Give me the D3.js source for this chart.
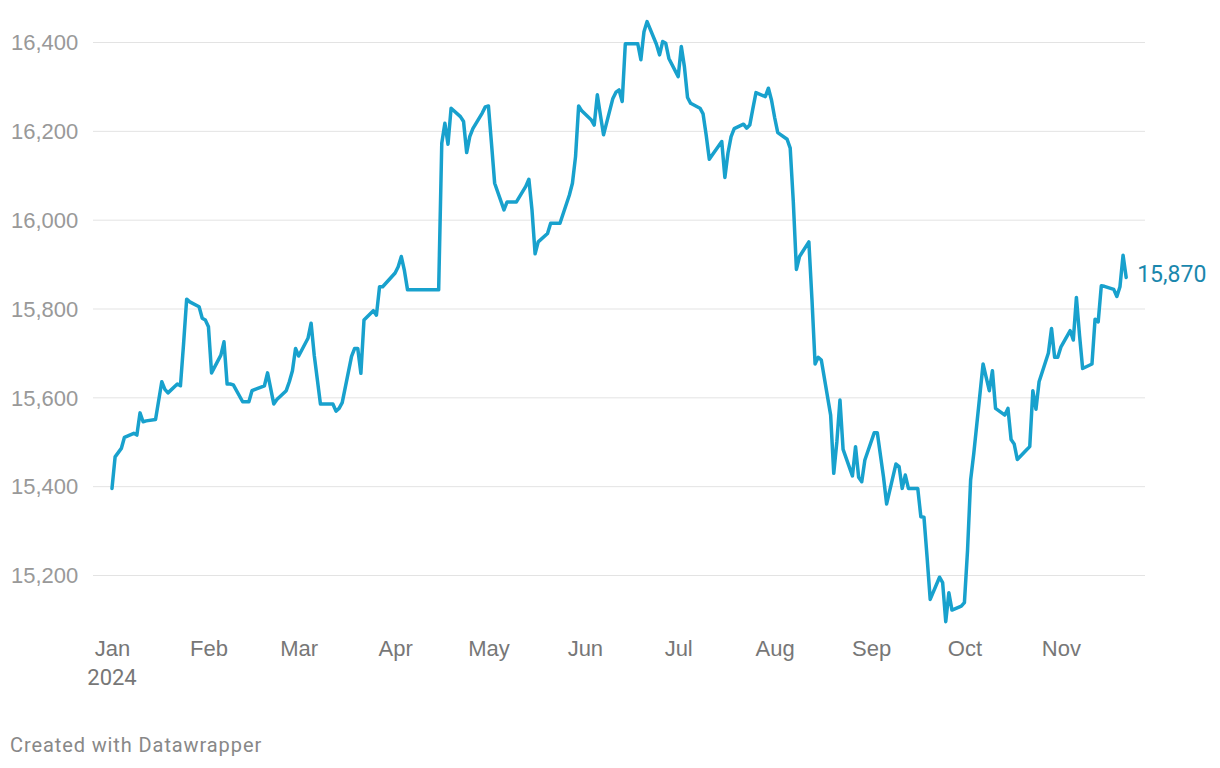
<!DOCTYPE html>
<html>
<head>
<meta charset="utf-8">
<script src="https://cdn.jsdelivr.net/npm/d3@7/dist/d3.min.js"></script>
<style>
  html, body { margin: 0; padding: 0; background: #fff; }
  svg { display: block; font-family: Roboto, "Noto Sans", sans-serif; }
</style>
</head>
<body>
<svg id="chart" width="1220" height="768"></svg>
<script>
const dates = [
  "2024-01-01","2024-01-02","2024-01-04","2024-01-05","2024-01-08","2024-01-09","2024-01-10","2024-01-11","2024-01-12",
  "2024-01-15","2024-01-17","2024-01-18","2024-01-19","2024-01-22","2024-01-23","2024-01-24","2024-01-25","2024-01-26",
  "2024-01-29","2024-01-30","2024-01-31","2024-02-01","2024-02-02","2024-02-05","2024-02-06","2024-02-07","2024-02-08",
  "2024-02-09","2024-02-12","2024-02-13","2024-02-14","2024-02-15","2024-02-16","2024-02-19","2024-02-20","2024-02-21",
  "2024-02-22","2024-02-23","2024-02-26","2024-02-27","2024-02-28","2024-02-29","2024-03-01","2024-03-04","2024-03-05",
  "2024-03-06","2024-03-07","2024-03-08","2024-03-11","2024-03-12","2024-03-13","2024-03-14","2024-03-15","2024-03-18",
  "2024-03-19","2024-03-20","2024-03-21","2024-03-22","2024-03-25","2024-03-26","2024-03-27","2024-03-28","2024-04-01",
  "2024-04-02","2024-04-03","2024-04-04","2024-04-05","2024-04-15","2024-04-16","2024-04-17","2024-04-18","2024-04-19",
  "2024-04-22","2024-04-23","2024-04-24","2024-04-25","2024-04-26","2024-04-29","2024-04-30","2024-05-01","2024-05-02",
  "2024-05-03","2024-05-06","2024-05-07","2024-05-08","2024-05-09","2024-05-10","2024-05-13","2024-05-14","2024-05-15",
  "2024-05-16","2024-05-17","2024-05-20","2024-05-21","2024-05-22","2024-05-23","2024-05-24","2024-05-27","2024-05-28",
  "2024-05-29","2024-05-30","2024-05-31","2024-06-03","2024-06-04","2024-06-05","2024-06-06","2024-06-07","2024-06-10",
  "2024-06-11","2024-06-12","2024-06-13","2024-06-14","2024-06-17","2024-06-18","2024-06-19","2024-06-20","2024-06-21",
  "2024-06-24","2024-06-25","2024-06-26","2024-06-27","2024-06-28","2024-07-01","2024-07-02","2024-07-03","2024-07-04",
  "2024-07-05","2024-07-08","2024-07-09","2024-07-10","2024-07-11","2024-07-12","2024-07-15","2024-07-16","2024-07-17",
  "2024-07-18","2024-07-19","2024-07-22","2024-07-23","2024-07-24","2024-07-25","2024-07-26","2024-07-29","2024-07-30",
  "2024-07-31","2024-08-01","2024-08-02","2024-08-05","2024-08-06","2024-08-07","2024-08-08","2024-08-09","2024-08-12",
  "2024-08-13","2024-08-14","2024-08-15","2024-08-16","2024-08-19","2024-08-20","2024-08-21","2024-08-22","2024-08-23",
  "2024-08-26","2024-08-27","2024-08-28","2024-08-29","2024-08-30","2024-09-02","2024-09-03","2024-09-04","2024-09-05",
  "2024-09-06","2024-09-09","2024-09-10","2024-09-11","2024-09-12","2024-09-13","2024-09-16","2024-09-17","2024-09-18",
  "2024-09-19","2024-09-20","2024-09-23","2024-09-24","2024-09-25","2024-09-26","2024-09-27","2024-09-30","2024-10-01",
  "2024-10-02","2024-10-03","2024-10-04","2024-10-07","2024-10-08","2024-10-09","2024-10-10","2024-10-11","2024-10-14",
  "2024-10-15","2024-10-16","2024-10-17","2024-10-18","2024-10-21","2024-10-22","2024-10-23","2024-10-24","2024-10-25",
  "2024-10-28","2024-10-29","2024-10-30","2024-10-31","2024-11-01","2024-11-04","2024-11-05","2024-11-06","2024-11-07",
  "2024-11-08","2024-11-11","2024-11-12","2024-11-13","2024-11-14","2024-11-15","2024-11-18","2024-11-19","2024-11-20",
  "2024-11-21","2024-11-22"
];
const values = [
  15395,15466,15485,15510,15519,15515,15565,15545,15547,
  15550,15635,15618,15610,15630,15626,15720,15821,15815,
  15804,15778,15774,15759,15655,15695,15725,15630,15630,
  15628,15590,15590,15590,15615,15618,15626,15655,15620,
  15585,15595,15615,15635,15660,15710,15693,15733,15767,
  15695,15640,15585,15585,15585,15569,15575,15588,15692,
  15710,15710,15654,15774,15795,15785,15849,15849,15880,
  15894,15917,15885,15842,15842,16172,16217,16170,16251,
  16232,16221,16151,16187,16205,16240,16254,16256,16170,
  16082,16022,16040,16040,16040,16040,16075,16091,16022,
  15923,15950,15969,15992,15992,15992,15992,16055,16082,
  16142,16256,16245,16225,16213,16281,16235,16191,16273,
  16287,16292,16266,16396,16396,16396,16360,16423,16446,
  16395,16371,16401,16397,16363,16322,16390,16344,16275,
  16262,16251,16238,16190,16136,16146,16176,16095,16150,
  16187,16205,16215,16206,16213,16250,16286,16277,16296,
  16269,16230,16196,16181,16161,16040,15888,15917,15950,
  15820,15675,15690,15684,15560,15429,15500,15594,15483,
  15423,15489,15420,15410,15459,15520,15520,15470,15420,
  15360,15450,15444,15395,15425,15395,15395,15331,15330,
  15240,15145,15195,15183,15095,15160,15121,15130,15138,
  15255,15414,15473,15675,15645,15615,15660,15575,15560,
  15575,15505,15495,15460,15482,15489,15615,15573,15635,
  15700,15755,15690,15690,15713,15750,15729,15825,15740,
  15665,15675,15776,15770,15851,15850,15843,15827,15849,
  15920,15870
];
const yTicks = [15200, 15400, 15600, 15800, 16000, 16200, 16400];
const xTickDates = ["2024-01-01","2024-02-01","2024-03-01","2024-04-01","2024-05-01","2024-06-01",
                    "2024-07-01","2024-08-01","2024-09-01","2024-10-01","2024-11-01"];
const yearLabel = "2024";
const footerText = "Created with Datawrapper";

const parse = d3.timeParse("%Y-%m-%d");
const data = dates.map((d, i) => ({ date: parse(d), value: values[i] }));

const svg = d3.select("#chart");
const gridLeft = 93, gridRight = 1145;

const x = d3.scaleTime()
  .domain(d3.extent(data, d => d.date))
  .range([112, 112 + 326 * 3.111]);

const y = d3.scaleLinear()
  .domain([15200, 16400])
  .range([575, 42]);

// Y axis with gridlines
const yAxis = svg.append("g")
  .attr("transform", `translate(${gridLeft},0)`)
  .call(d3.axisLeft(y)
    .tickValues(yTicks)
    .tickSize(-(gridRight - gridLeft))
    .tickPadding(12)
    .tickFormat(d3.format(",")));
yAxis.select(".domain").remove();
yAxis.selectAll(".tick line").attr("stroke", "#e3e3e3").attr("stroke-width", 1);
yAxis.selectAll(".tick text")
  .attr("fill", "#999")
  .attr("font-size", 22)
  .attr("text-anchor", "start")
  .attr("x", 11 - gridLeft)
  .attr("dy", "0.35em");

// X axis
const xAxis = svg.append("g")
  .attr("transform", "translate(0,640)")
  .call(d3.axisBottom(x)
    .tickValues(xTickDates.map(parse))
    .tickSize(0)
    .tickPadding(0)
    .tickFormat(d3.timeFormat("%b")));
xAxis.select(".domain").remove();
xAxis.selectAll(".tick text")
  .attr("fill", "#777")
  .attr("font-size", 22)
  .attr("dy", "0.71em");

svg.append("text")
  .attr("x", x(parse(xTickDates[0])))
  .attr("y", 640)
  .attr("dy", "2.05em")
  .attr("text-anchor", "middle")
  .attr("fill", "#777")
  .attr("font-size", 22)
  .text(yearLabel);

// Line
const line = d3.line()
  .x(d => x(d.date))
  .y(d => y(d.value));

svg.append("path")
  .datum(data)
  .attr("fill", "none")
  .attr("stroke", "#18a1cd")
  .attr("stroke-width", 3.5)
  .attr("stroke-linejoin", "round")
  .attr("stroke-linecap", "round")
  .attr("d", line);

// End label
const last = data[data.length - 1];
svg.append("text")
  .attr("x", x(last.date) + 11)
  .attr("y", y(last.value) - 3)
  .attr("dy", "0.35em")
  .attr("fill", "#1a87ad")
  .attr("font-size", 23)
  .text(d3.format(",")(last.value));

// Footer
svg.append("text")
  .attr("x", 10)
  .attr("y", 745)
  .attr("dy", "0.35em")
  .attr("fill", "#888")
  .attr("font-size", 20)
  .attr("letter-spacing", "0.9px")
  .text(footerText);
</script>
</body>
</html>
